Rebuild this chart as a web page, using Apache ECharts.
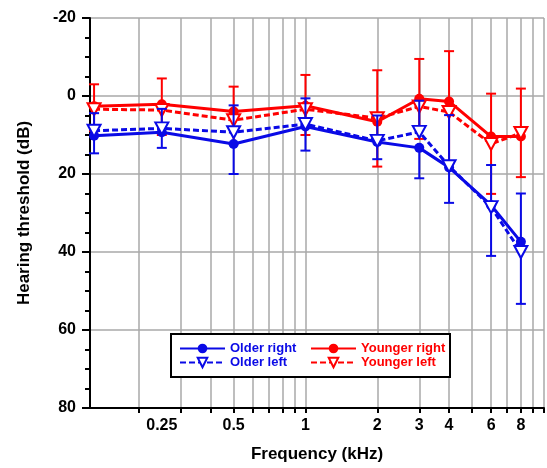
<!DOCTYPE html>
<html>
<head>
<meta charset="utf-8">
<script src="https://cdn.jsdelivr.net/npm/echarts@6/dist/echarts.min.js"></script>
<style>
html,body{margin:0;padding:0;background:#fff;}
#chart{width:547px;height:468px;}
</style>
</head>
<body>
<div id="chart"></div>
<script>
// Frequencies (kHz); first point drawn just inside the 0.125 kHz axis edge
var freqs = [0.13, 0.25, 0.5, 1, 2, 3, 4, 6, 8];
var tickFreqs = [0.2, 0.3, 0.4, 0.5, 0.6, 0.7, 0.8, 0.9, 1, 2, 3, 4, 5, 6, 7, 8, 9, 10];
var labelFreqs = [0.25, 0.5, 1, 2, 3, 4, 6, 8];

var olderRight     = [10.2, 9.3, 12.3, 7.8, 11.8, 13.3, 18.3, 28.0, 37.4];
var olderRightSD   = [4.5, 4.0, 7.7, 6.2, 4.4, 7.8, 9.1, 13.0, 15.9];
var olderLeft      = [8.9, 8.3, 9.3, 7.2, 11.5, 9.2, 18.0, 28.5, 40.0];
var olderLeftSD    = [4.5, 5.0, 6.9, 6.6, 6.5, 8.0, 13.1, 10.8, 15.0];
var youngerRight   = [2.6, 2.1, 4.0, 2.5, 6.6, 0.7, 1.4, 10.4, 10.4];
var youngerRightSD = [5.6, 6.6, 6.4, 7.9, 13.2, 10.2, 12.9, 11.0, 12.3];
var youngerLeft    = [3.4, 3.6, 6.2, 3.4, 5.7, 2.7, 4.1, 12.3, 9.5];
var youngerLeftSD  = [5.6, 6.4, 6.0, 6.6, 12.4, 8.3, 13.3, 12.8, 11.3];

var yTicks = { min: -20, max: 80, interval: 20 };

var BLUE = '#0a0ae6';
var RED = '#ff0000';
var FONT = 'Liberation Sans, Arial, sans-serif';

function lg(v) { return Math.log10(v); }
function pts(vals) { return freqs.map(function (f, i) { return [lg(f), vals[i]]; }); }

function errSeries(vals, sds, dir, color, z) {
  return {
    type: 'custom',
    xAxisIndex: 0, yAxisIndex: 0,
    silent: true,
    z: z,
    data: freqs.map(function (f, i) { return [lg(f), vals[i], vals[i] + dir * sds[i]]; }),
    encode: { x: 0, y: [1, 2] },
    renderItem: function (params, api) {
      var x = api.value(0), m = api.value(1), e = api.value(2);
      var p0 = api.coord([x, m]);
      var p1 = api.coord([x, e]);
      var cw = 5;
      return {
        type: 'group',
        children: [
          { type: 'line', shape: { x1: p0[0], y1: p0[1], x2: p1[0], y2: p1[1] }, style: { stroke: color, lineWidth: 2 } },
          { type: 'line', shape: { x1: p1[0] - cw, y1: p1[1], x2: p1[0] + cw, y2: p1[1] }, style: { stroke: color, lineWidth: 2 } }
        ]
      };
    }
  };
}

function lineSeries(name, vals, color, dashed, tri, z) {
  return {
    type: 'line',
    name: name,
    z: z,
    data: pts(vals),
    symbol: tri ? 'triangle' : 'circle',
    symbolSize: tri ? [13, 12] : 10,
    symbolRotate: tri ? 180 : 0,
    showAllSymbol: true,
    lineStyle: { color: color, width: 3, type: dashed ? [6, 3] : 'solid' },
    itemStyle: tri ? { color: '#ffffff', borderColor: color, borderWidth: 2 } : { color: color, borderColor: color, borderWidth: 0 },
    emphasis: { disabled: true }
  };
}

var chart = echarts.init(document.getElementById('chart'), null, { renderer: 'canvas' });
chart.setOption({
  animation: false,
  backgroundColor: '#ffffff',
  grid: { left: 90, right: 3, top: 18, bottom: 58, containLabel: false },
  xAxis: [{
    type: 'value',
    min: lg(0.125), max: lg(10),
    name: 'Frequency (kHz)',
    nameLocation: 'middle',
    nameGap: 38,
    nameTextStyle: { fontFamily: FONT, fontWeight: 'bold', fontSize: 17, color: '#000' },
    axisLine: { show: true, onZero: false, lineStyle: { color: '#000', width: 2 } },
    axisTick: { show: true, customValues: tickFreqs.map(lg), length: 5, lineStyle: { color: '#000', width: 2 } },
    axisLabel: {
      show: true,
      customValues: labelFreqs.map(lg),
      margin: 10,
      fontFamily: FONT, fontWeight: 'bold', fontSize: 16, color: '#000',
      formatter: function (v) { return String(Math.round(Math.pow(10, v) * 100) / 100); }
    },
    splitLine: { show: true, lineStyle: { color: '#a8a8a8', width: 1.5 } }
  }],
  yAxis: [{
    type: 'value',
    inverse: true,
    min: yTicks.min, max: yTicks.max, interval: yTicks.interval,
    name: 'Hearing threshold (dB)',
    nameLocation: 'middle',
    nameGap: 57,
    nameTextStyle: { fontFamily: FONT, fontWeight: 'bold', fontSize: 17, color: '#000' },
    axisLine: { show: true, onZero: false, lineStyle: { color: '#000', width: 2 } },
    axisTick: { show: true, length: 8, lineStyle: { color: '#000', width: 2 } },
    minorTick: { show: true, splitNumber: 4, length: 5, lineStyle: { color: '#000', width: 2 } },
    axisLabel: { margin: 14, fontFamily: FONT, fontWeight: 'bold', fontSize: 16, color: '#000' },
    splitLine: { show: true, lineStyle: { color: '#a8a8a8', width: 1.5 } }
  }],
  legend: [{
    data: ['Older right', 'Older left'],
    orient: 'vertical',
    left: 179, top: 342,
    padding: 0,
    itemWidth: 45, itemHeight: 12, itemGap: 1,
    z: 10,
    selectedMode: false,
    textStyle: { fontFamily: FONT, fontWeight: 'bold', fontSize: 13, color: BLUE }
  }, {
    data: ['Younger right', 'Younger left'],
    orient: 'vertical',
    left: 310, top: 342,
    padding: 0,
    itemWidth: 45, itemHeight: 12, itemGap: 1,
    z: 10,
    selectedMode: false,
    textStyle: { fontFamily: FONT, fontWeight: 'bold', fontSize: 13, color: RED }
  }],
  graphic: {
    elements: [{
      type: 'rect', left: 170, top: 333, z: 3,
      shape: { width: 279, height: 43 },
      style: { fill: '#ffffff', stroke: '#000000', lineWidth: 2 }
    }]
  },
  series: [
    errSeries(youngerRight, youngerRightSD, -1, RED, 2),
    errSeries(youngerLeft, youngerLeftSD, 1, RED, 2),
    lineSeries('Younger right', youngerRight, RED, false, false, 3),
    lineSeries('Younger left', youngerLeft, RED, true, true, 3),
    errSeries(olderRight, olderRightSD, 1, BLUE, 4),
    errSeries(olderLeft, olderLeftSD, -1, BLUE, 4),
    lineSeries('Older right', olderRight, BLUE, false, false, 5),
    lineSeries('Older left', olderLeft, BLUE, true, true, 5)
  ]
});
</script>
</body>
</html>
